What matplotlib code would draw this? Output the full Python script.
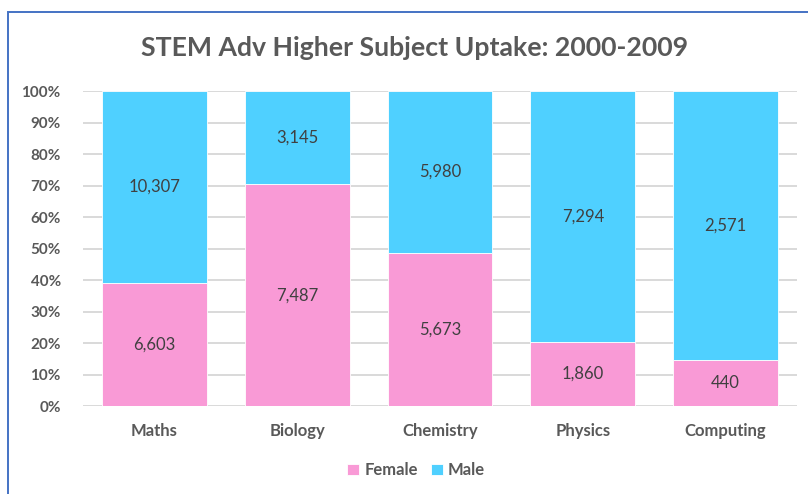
import matplotlib
matplotlib.use("Agg")
import matplotlib.pyplot as plt
from matplotlib.patches import Rectangle
from matplotlib.ticker import PercentFormatter

subjects = ["Maths", "Biology", "Chemistry", "Physics", "Computing"]
female = [6603, 7487, 5673, 1860, 440]
male = [10307, 3145, 5980, 7294, 2571]

PINK = "#F99AD6"; CYAN = "#4FD0FF"; GRID = "#D9D9D9"
TXT = "#595959"; LBL = "#404040"; FRAME = "#4472C4"
FONT = ["Lato", "DejaVu Sans"]
plt.rcParams["font.family"] = FONT

tot = [f + m for f, m in zip(female, male)]
fp = [100 * f / t for f, t in zip(female, tot)]
mp = [100 * m / t for m, t in zip(male, tot)]
x = list(range(len(subjects)))

fig = plt.figure(figsize=(8.08, 4.94), dpi=100)
ax = fig.add_axes([0.1027, 0.178, 0.8837, 0.6377])

b1 = ax.bar(x, fp, width=0.735, color=PINK, edgecolor="white", lw=0.6, label="Female", zorder=2)
b2 = ax.bar(x, mp, width=0.735, bottom=fp, color=CYAN, edgecolor="white", lw=0.6, label="Male", zorder=2)

for bars, vals in ((b1, female), (b2, male)):
    ax.bar_label(bars, labels=[f"{v:,}" for v in vals], label_type="center",
                 fontsize=12, color=LBL)

ax.set_xlim(-0.5, len(subjects) - 0.5)
ax.set_ylim(0, 100)
ax.set_yticks(range(0, 101, 10))
ax.yaxis.set_major_formatter(PercentFormatter(decimals=0))
ax.set_xticks(x, subjects)
ax.grid(axis="y", color=GRID, lw=1.4, zorder=0)
for s in ax.spines.values():
    s.set_visible(False)
ax.tick_params(length=0)
ax.tick_params(axis="y", pad=16, labelsize=11, labelcolor=TXT)
ax.tick_params(axis="x", pad=12, labelsize=12, labelcolor=TXT)
for t in ax.get_yticklabels() + ax.get_xticklabels():
    t.set_fontweight("bold")

fig.text(0.5136, 0.902, "STEM Adv Higher Subject Uptake: 2000-2009", ha="center",
         va="center", fontsize=19.2, fontweight="bold", color=TXT)

leg = fig.legend(loc="center", bbox_to_anchor=(0.515, 0.048), ncol=2, frameon=False,
                 prop={"family": FONT, "weight": "bold", "size": 12},
                 handlelength=0.7, handleheight=0.7,
                 handletextpad=0.3, columnspacing=0.8)
for t in leg.get_texts():
    t.set_color(TXT)

fig.patches.append(Rectangle((8 / 808, -0.2), 1.3, 1 - 12 / 494 + 0.2,
                             transform=fig.transFigure, fill=False,
                             ec=FRAME, lw=1.4))

fig.savefig("out.png", dpi=100)
